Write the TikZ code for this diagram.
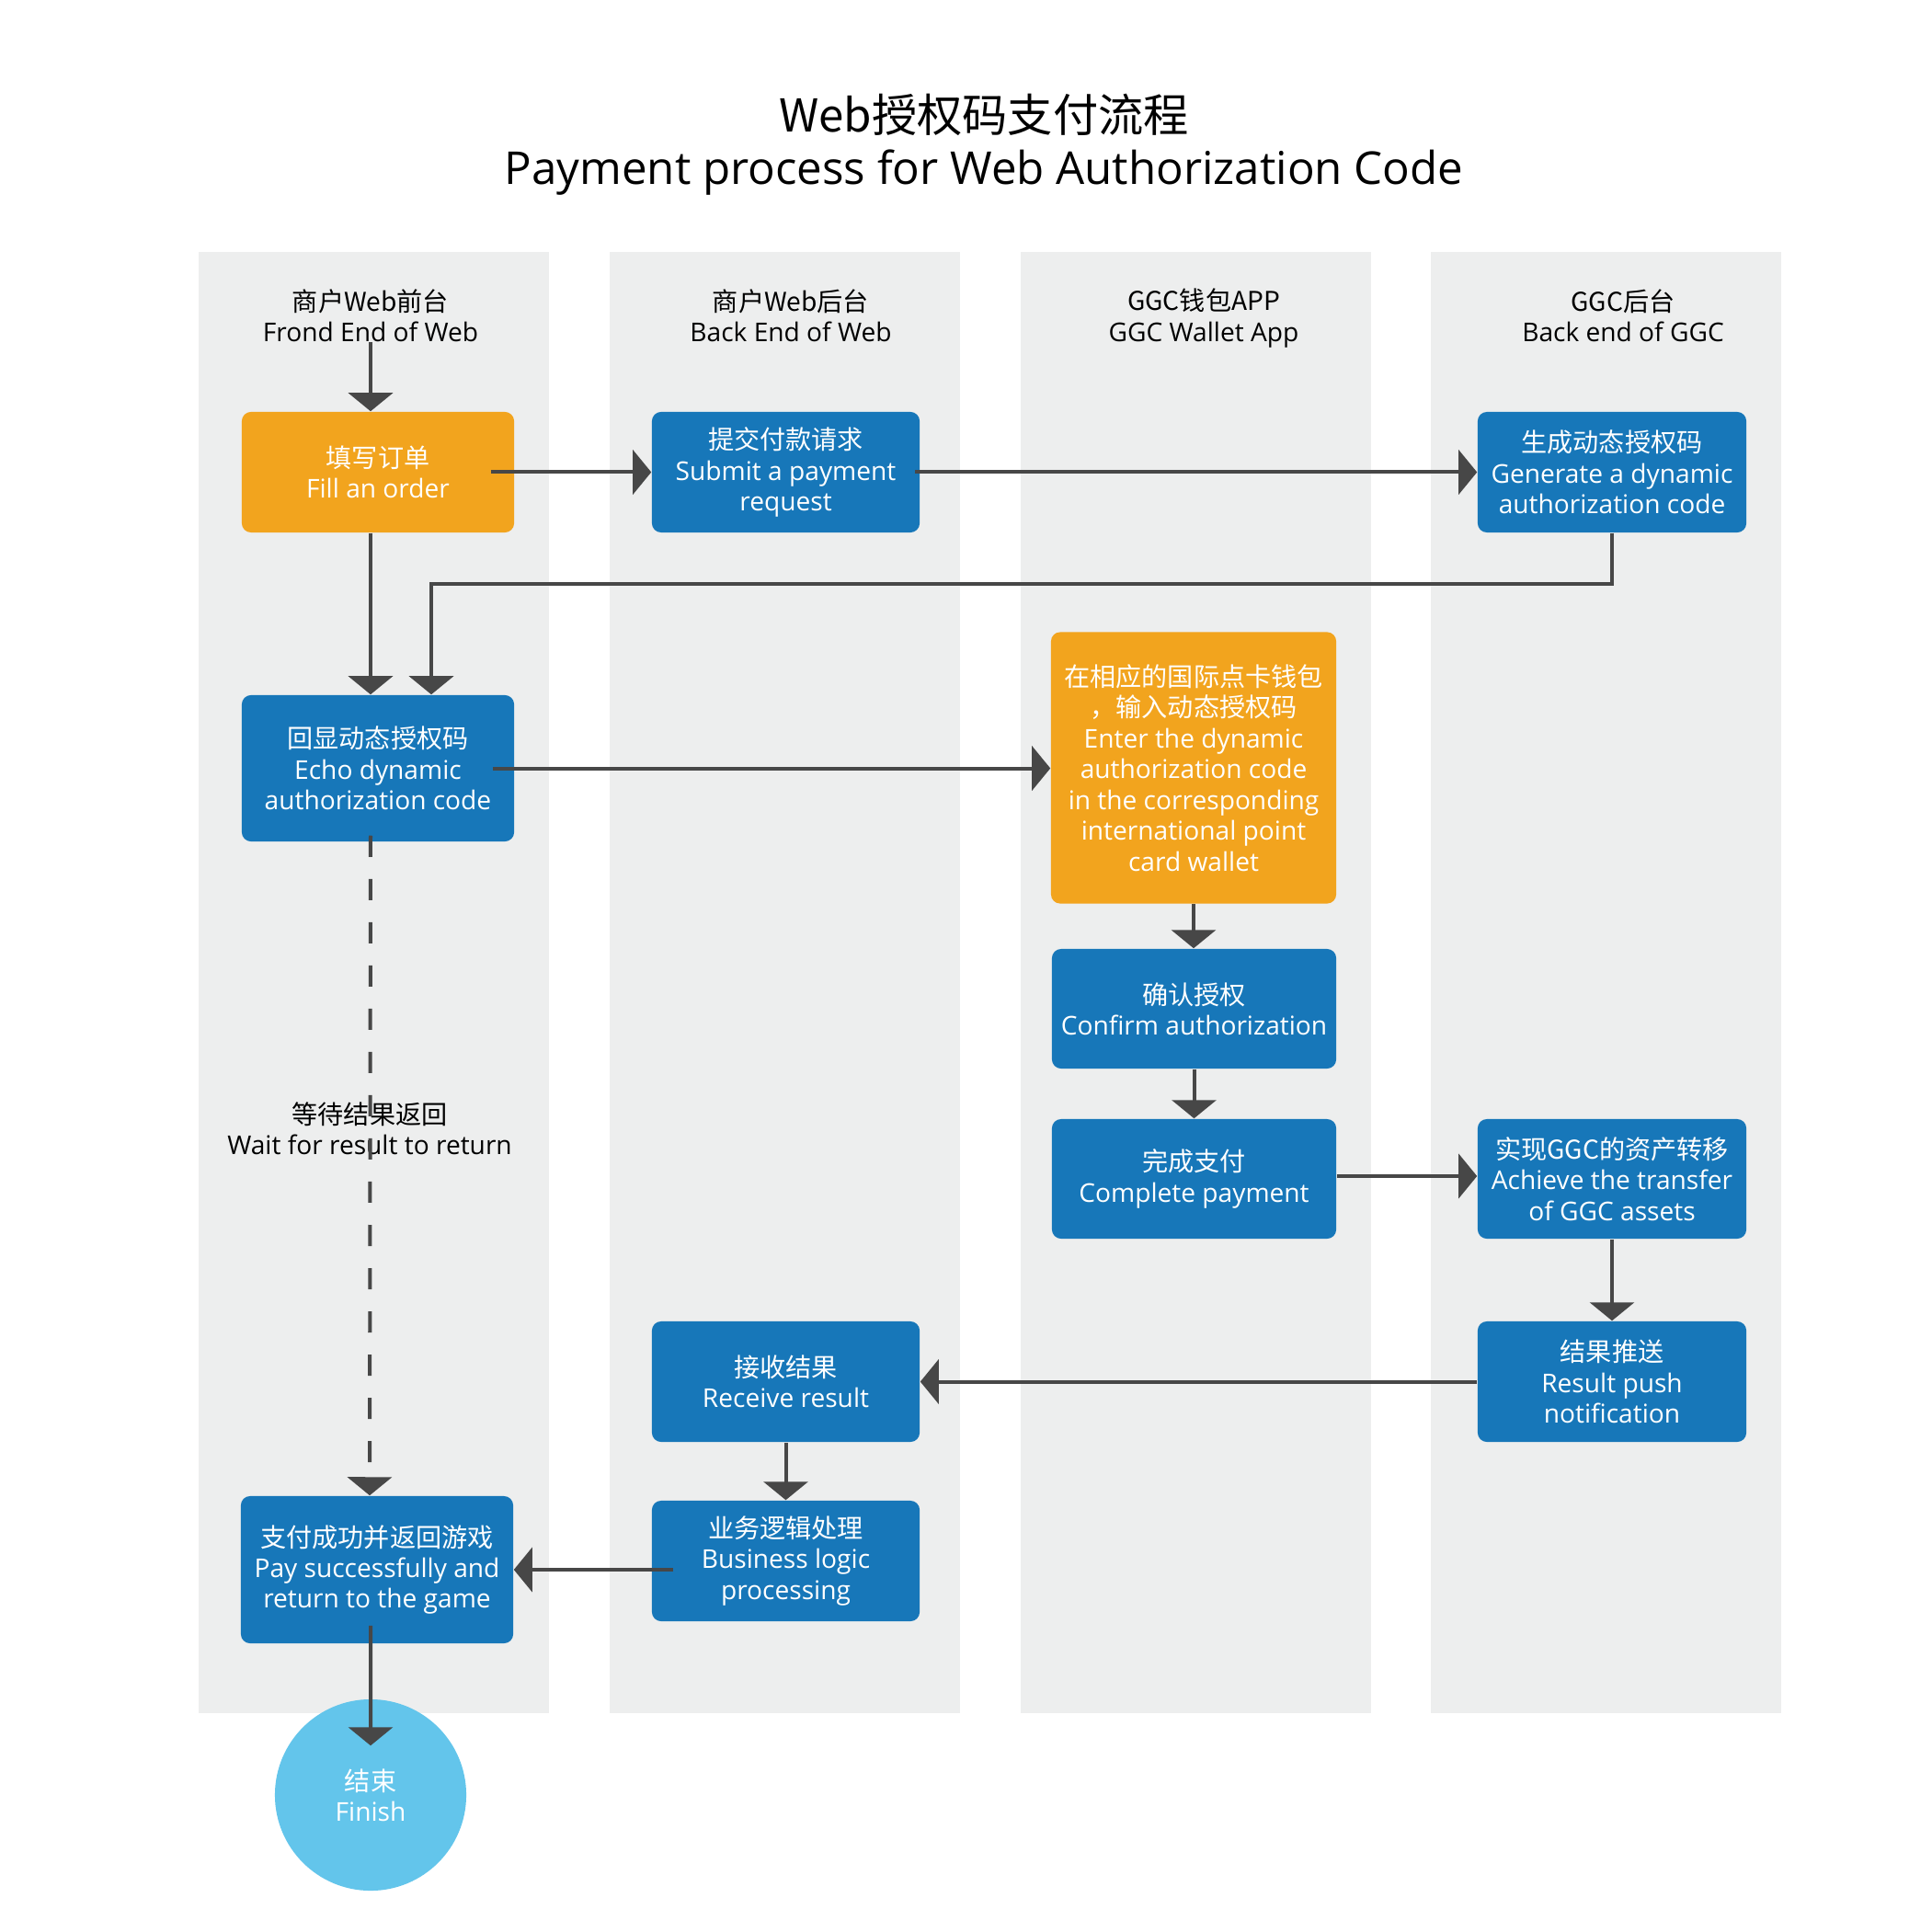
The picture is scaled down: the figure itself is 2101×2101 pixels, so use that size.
\documentclass[tikz,border=0pt]{standalone}
\usepackage{fontspec}
\setmainfont{Open Sans}
\newfontfamily\cjk{Noto Sans CJK SC}
\usepackage{tikz}
\usetikzlibrary{arrows.meta}

\definecolor{lanegray}{RGB}{237,238,238}
\definecolor{boxblue}{RGB}{23,119,185}
\definecolor{boxorange}{RGB}{242,164,30}
\definecolor{endblue}{RGB}{99,197,235}
\definecolor{linegray}{RGB}{71,71,71}

\tikzset{
	box/.style={rectangle, rounded corners=0.1cm, align=center, text=white, inner sep=0pt,
		font=\fontsize{8}{9.5}\selectfont},
	bluebox/.style={box, fill=boxblue},
	orangebox/.style={box, fill=boxorange},
	lanehead/.style={align=center, inner sep=0pt, font=\fontsize{8}{9.5}\selectfont},
	flow/.style={draw=linegray, line width=0.04cm, -{Triangle[length=0.2cm,width=0.48cm]}},
	line/.style={draw=linegray, line width=0.04cm}
}

\begin{document}
\begin{tikzpicture}[x=0.01cm, y=-0.01cm]
		\useasboundingbox[fill=white] (0,0) rectangle (2101,2101);
		% lanes
		\foreach \lx in {216, 663, 1110, 1556}
		\fill[lanegray] (\lx,274) rectangle ++(381,1589);

		\node[align=center, font=\fontsize{14}{16.2}\selectfont] (title) at (1070,157)
		{{\cjk Web授权码支付流程}\\Payment process for Web Authorization Code};

		\node[lanehead] (hdr1) at (403,343) {{\cjk 商户Web前台}\\Frond End of Web};
		\node[lanehead] (hdr2) at (860,343) {{\cjk 商户Web后台}\\Back End of Web};
		\node[lanehead] (hdr3) at (1309,346) {{\cjk GGC钱包APP}\\GGC Wallet App};
		\node[lanehead] (hdr4) at (1765,343) {{\cjk GGC后台}\\Back end of GGC};

		\node[orangebox, minimum width=2.96cm, minimum height=1.31cm] (fill) at (411,513.5)
		{{\cjk 填写订单}\\Fill an order};
		\node[bluebox, minimum width=2.91cm, minimum height=1.31cm] (submit) at (854.5,513.5)
		{{\cjk 提交付款请求}\\Submit a payment\\request};
		\node[bluebox, minimum width=2.92cm, minimum height=1.31cm] (gen) at (1753,513.5)
		{{\cjk 生成动态授权码}\\Generate a dynamic\\authorization code};
		\node[bluebox, minimum width=2.96cm, minimum height=1.59cm] (echo) at (411,835.5)
		{{\cjk 回显动态授权码}\\Echo dynamic\\authorization code};
		\node[orangebox, minimum width=3.1cm, minimum height=2.95cm] (enter) at (1298,835)
		{{\cjk 在相应的国际点卡钱包}\\{\cjk ，输入动态授权码}\\Enter the dynamic\\authorization code\\in the corresponding\\international point\\card wallet};
		\node[bluebox, minimum width=3.09cm, minimum height=1.3cm] (confirm) at (1298.5,1097)
		{{\cjk 确认授权}\\Confirm authorization};
		\node[bluebox, minimum width=3.09cm, minimum height=1.3cm] (complete) at (1298.5,1282)
		{{\cjk 完成支付}\\Complete payment};
		\node[bluebox, minimum width=2.92cm, minimum height=1.3cm] (achieve) at (1753,1282)
		{{\cjk 实现GGC的资产转移}\\Achieve the transfer\\of GGC assets};
		\node[bluebox, minimum width=2.92cm, minimum height=1.31cm] (push) at (1753,1502.5)
		{{\cjk 结果推送}\\Result push\\notification};
		\node[bluebox, minimum width=2.91cm, minimum height=1.31cm] (receive) at (854.5,1502.5)
		{{\cjk 接收结果}\\Receive result};
		\node[bluebox, minimum width=2.91cm, minimum height=1.31cm] (logic) at (854.5,1697.5)
		{{\cjk 业务逻辑处理}\\Business logic\\processing};
		\node[bluebox, minimum width=2.96cm, minimum height=1.6cm] (pay) at (410,1707)
		{{\cjk 支付成功并返回游戏}\\Pay successfully and\\return to the game};
		\node[circle, fill=endblue, text=white, minimum size=2.08cm, align=center,
		font=\fontsize{8}{9.5}\selectfont] (finish) at (403,1952) {{\cjk 结束}\\Finish};

		\node[lanehead] (wait) at (402,1227) {{\cjk 等待结果返回}\\Wait for result to return};

		% connectors
		\draw[flow] (hdr1.south) -- (hdr1.south |- fill.north);
		\draw[flow] ([xshift=-0.26cm]fill.east) -- (submit.west);
		\draw[flow] ([xshift=-0.06cm]submit.east) -- (gen.west);
		\draw[flow] ([xshift=-0.08cm]fill.south) -- ([xshift=-0.08cm]echo.north);
		\draw[flow] (gen.south) -- ++(0,55) -| ([xshift=0.58cm]echo.north);
		\draw[flow] ([xshift=-0.24cm]echo.east) -- (echo.east -| enter.west);
		\draw[flow, dash pattern=on 0.23cm off 0.24cm] ([xshift=-0.08cm,yshift=0.07cm]echo.south) -- ([xshift=-0.08cm]pay.north);
		\draw[flow] (enter.south) -- (enter.south |- confirm.north);
		\draw[flow] (confirm.south) -- (complete.north);
		\draw[flow] ([yshift=0.03cm]complete.east) -- ([yshift=0.03cm]complete.east -| achieve.west);
		\draw[flow] (achieve.south) -- (push.north);
		\draw[flow] (push.west) -- (receive.east);
		\draw[flow] (receive.south) -- (logic.north);
		\draw[flow] ([xshift=0.24cm]logic.west |- pay.east) -- (pay.east);
		\draw[flow] ([xshift=-0.07cm,yshift=0.2cm]pay.south) -- ([yshift=-0.51cm]finish.north);
	\end{tikzpicture}
\end{document}
